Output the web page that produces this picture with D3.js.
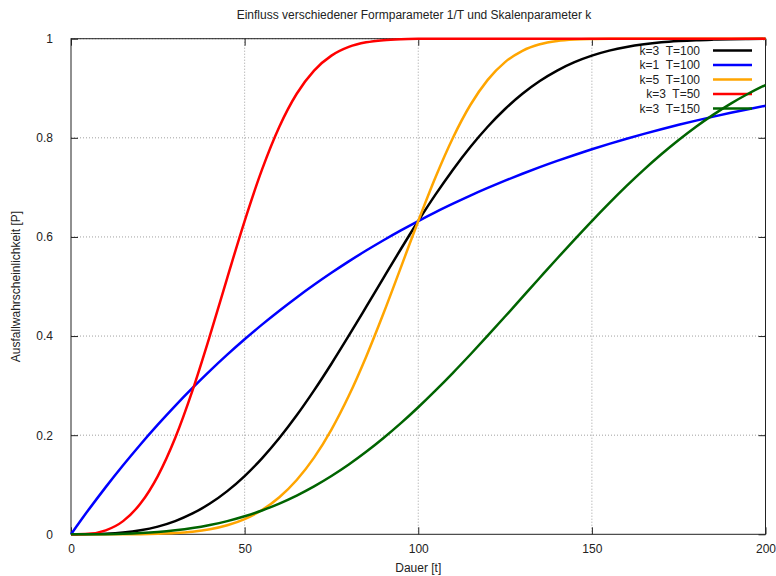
<!DOCTYPE html>
<html>
<head>
<meta charset="utf-8">
<script src="https://cdn.jsdelivr.net/npm/d3@7/dist/d3.min.js"></script>
<style>
  body { margin: 0; background: #fff; }
  text { font-family: "Liberation Sans", Arial, sans-serif; font-size: 12px; fill: #222; }
</style>
</head>
<body>
<svg id="chart" width="776" height="576"></svg>
<script>
// Zeitachse (Dauer t)
const dauer = [0,5,10,15,20,25,30,35,40,45,50,55,60,65,70,75,80,85,90,95,100,
  105,110,115,120,125,130,135,140,145,150,155,160,165,170,175,180,185,190,195,200];

// Ausfallwahrscheinlichkeit je Parameterkombination
const k3T100 = [0,0.0001,0.0010,0.0034,0.0080,0.0155,0.0266,0.0420,0.0620,0.0871,0.1175,
  0.1533,0.1943,0.2401,0.2904,0.3442,0.4007,0.4589,0.5176,0.5757,0.6321,
  0.6858,0.7358,0.7815,0.8224,0.8582,0.8889,0.9146,0.9357,0.9526,0.9658,
  0.9759,0.9834,0.9888,0.9927,0.9953,0.9971,0.9982,0.9990,0.9994,0.9997];
const k1T100 = [0,0.0488,0.0952,0.1393,0.1813,0.2212,0.2592,0.2953,0.3297,0.3624,0.3935,
  0.4231,0.4512,0.4780,0.5034,0.5276,0.5507,0.5726,0.5934,0.6133,0.6321,
  0.6501,0.6671,0.6834,0.6988,0.7135,0.7275,0.7408,0.7534,0.7654,0.7769,
  0.7878,0.7981,0.8080,0.8173,0.8262,0.8347,0.8428,0.8504,0.8577,0.8647];
const k5T100 = [0,0.0000,0.0000,0.0001,0.0003,0.0010,0.0024,0.0052,0.0102,0.0183,0.0308,
  0.0491,0.0748,0.1096,0.1547,0.2113,0.2794,0.3584,0.4459,0.5387,0.6321,
  0.7209,0.8002,0.8662,0.9169,0.9527,0.9756,0.9887,0.9954,0.9984,0.9995,
  0.9999,1,1,1,1,1,1,1,1,1];
const k3T50 = [0,0.0010,0.0080,0.0266,0.0620,0.1175,0.1943,0.2904,0.4007,0.5176,0.6321,
  0.7358,0.8224,0.8889,0.9357,0.9658,0.9834,0.9927,0.9971,0.9990,0.9997,
  0.9999,1,1,1,1,1,1,1,1,1,
  1,1,1,1,1,1,1,1,1,1];
const k3T150 = [0,0.0000,0.0003,0.0010,0.0024,0.0046,0.0080,0.0126,0.0188,0.0266,0.0364,
  0.0481,0.0620,0.0781,0.0966,0.1175,0.1408,0.1664,0.1943,0.2243,0.2564,
  0.2904,0.3259,0.3628,0.4007,0.4394,0.4785,0.5176,0.5565,0.5947,0.6321,
  0.6682,0.7029,0.7358,0.7668,0.7956,0.8224,0.8468,0.8690,0.8889,0.9066];

const seriesLabels = ["k=3  T=100", "k=1  T=100", "k=5  T=100", "k=3  T=50", "k=3  T=150"];
const seriesValues = [k3T100, k1T100, k5T100, k3T50, k3T150];
const seriesColors = ["#000000", "#0000ff", "#ffa500", "#ff0000", "#006400"];

const xTicks = [0, 50, 100, 150, 200];
const yTicks = [0, 0.2, 0.4, 0.6, 0.8, 1];

const titleText = "Einfluss verschiedener Formparameter 1/T und Skalenparameter k";
const xLabel = "Dauer [t]";
const yLabel = "Ausfallwahrscheinlichkeit [P]";

const svg = d3.select("#chart");
const plot = { left: 71, right: 765.5, top: 38.7, bottom: 534.3 };

const x = d3.scaleLinear().domain([0, 200]).range([plot.left, plot.right]);
const y = d3.scaleLinear().domain([0, 1]).range([plot.bottom, plot.top]);

// Gitternetz (gepunktet)
const grid = svg.append("g");
grid.selectAll("line.gx").data(xTicks.slice(1, -1)).join("line")
  .attr("x1", d => x(d)).attr("x2", d => x(d))
  .attr("y1", plot.top).attr("y2", plot.bottom)
  .attr("stroke", "#a0a0a0").attr("stroke-width", 1).attr("stroke-dasharray", "1,2");
grid.selectAll("line.gy").data(yTicks.slice(1)).join("line")
  .attr("x1", plot.left).attr("x2", plot.right)
  .attr("y1", d => y(d)).attr("y2", d => y(d))
  .attr("stroke", "#a0a0a0").attr("stroke-width", 1).attr("stroke-dasharray", "1,2");

// Achsen mit nach innen zeigenden Ticks
const fmt = d => d3.format("~g")(d);
const axB = svg.append("g").attr("transform", `translate(0,${plot.bottom})`)
  .call(d3.axisBottom(x).tickValues(xTicks).tickFormat(fmt).tickSize(-7).tickPadding(10));
const axT = svg.append("g").attr("transform", `translate(0,${plot.top})`)
  .call(d3.axisTop(x).tickValues(xTicks).tickFormat("").tickSize(-7));
const axL = svg.append("g").attr("transform", `translate(${plot.left},0)`)
  .call(d3.axisLeft(y).tickValues(yTicks).tickFormat(fmt).tickSize(-7).tickPadding(18));
const axR = svg.append("g").attr("transform", `translate(${plot.right},0)`)
  .call(d3.axisRight(y).tickValues(yTicks).tickFormat("").tickSize(-7));
[axB, axT, axL, axR].forEach(a => {
  a.select(".domain").remove();
  a.selectAll(".tick line").attr("stroke", "#222");
  a.selectAll("text").attr("fill", "#222").style("font-size", "12px")
    .style("font-family", "'Liberation Sans', Arial, sans-serif");
});

// Kurven
const line = d3.line()
  .x((d, i) => x(dauer[i]))
  .y(d => y(d))
  .curve(d3.curveMonotoneX);

// Rahmen
svg.append("rect")
  .attr("x", plot.left).attr("y", plot.top)
  .attr("width", plot.right - plot.left).attr("height", plot.bottom - plot.top)
  .attr("fill", "none").attr("stroke", "#222").attr("stroke-width", 1);

// Legende und Kurven
const legendTextX = 700, legendLineX1 = 713, legendLineX2 = 752, legendY0 = 50.5, legendDy = 14.5;
seriesValues.forEach((vals, i) => {
  svg.append("path").datum(vals)
    .attr("d", line)
    .attr("fill", "none")
    .attr("stroke", seriesColors[i])
    .attr("stroke-width", 2.5)
    .attr("stroke-linejoin", "round");
  const ly = legendY0 + i * legendDy;
  svg.append("text").attr("x", legendTextX).attr("y", ly).attr("dy", "0.35em")
    .attr("text-anchor", "end").style("white-space", "pre").attr("xml:space", "preserve")
    .text(seriesLabels[i]);
  svg.append("line").attr("x1", legendLineX1).attr("x2", legendLineX2)
    .attr("y1", ly).attr("y2", ly)
    .attr("stroke", seriesColors[i]).attr("stroke-width", 2.5);
});

// Beschriftungen
svg.append("text").attr("x", 414).attr("y", 19).attr("text-anchor", "middle").text(titleText);
svg.append("text").attr("x", (plot.left + plot.right) / 2).attr("y", 572)
  .attr("text-anchor", "middle").text(xLabel);
svg.append("text").attr("transform", `translate(20,${(plot.top + plot.bottom) / 2}) rotate(-90)`)
  .attr("text-anchor", "middle").text(yLabel);
</script>
</body>
</html>
